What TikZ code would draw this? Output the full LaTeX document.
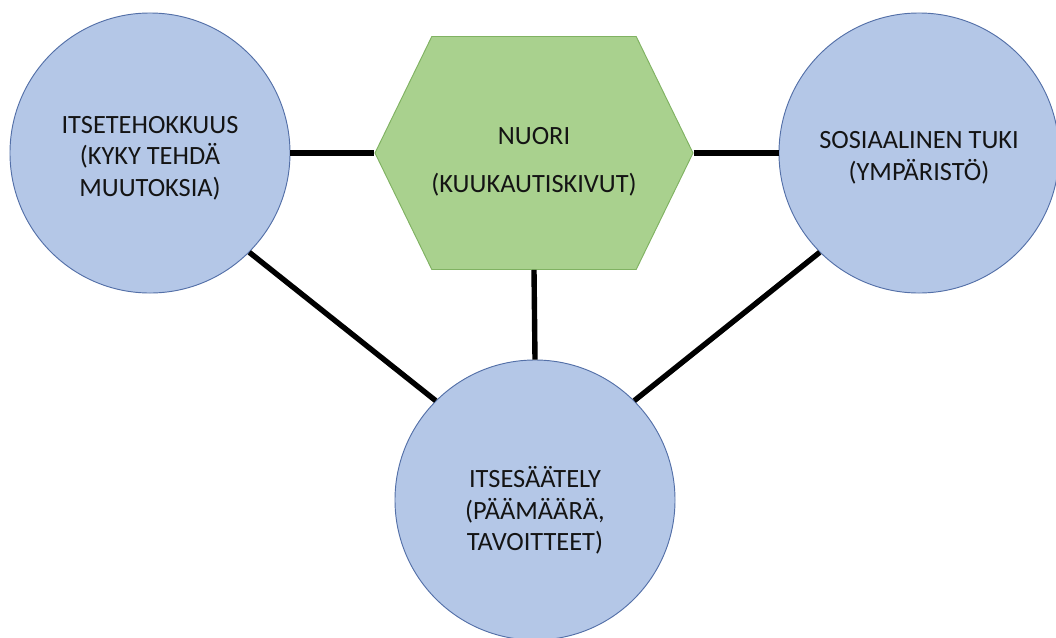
\documentclass[tikz,border=0pt]{standalone}
\usepackage{fontspec}
\setmainfont{Carlito}
\usetikzlibrary{shapes.symbols}

\definecolor{circblue}{RGB}{180,199,231}
\definecolor{circedge}{RGB}{84,112,168}
\definecolor{hexgreen}{RGB}{169,209,142}
\definecolor{hexedge}{RGB}{128,178,98}

\tikzset{
  topic/.style={circle, draw=circedge, fill=circblue, line width=0.8pt,
    minimum size=8.4cm, inner sep=0pt, align=center, text=black!92,
    font=\fontsize{22.5}{26.9}\selectfont},
  hexnode/.style={signal, signal to=east and west, signal pointer angle=128,
    draw=hexedge, fill=hexgreen, line width=0.8pt,
    minimum width=9.54cm, minimum height=6.99cm, inner sep=0pt},
  link/.style={line width=4.6pt}
}

\begin{document}
\begin{tikzpicture}[x=0.03cm, y=-0.03cm]

    \useasboundingbox (0,0) rectangle (1056,637);

    % Draw the hexagon
    \node[hexnode] (nuori) at (534,153) {};
    \node[align=center, text=black!92, font=\fontsize{22.5}{26.9}\selectfont]
      (nuoritext) at (534,162) {NUORI\\[14pt](KUUKAUTISKIVUT)};

    % Draw the circles
    \node[topic] (itseteho) at (150,153) {\rule{0pt}{23pt}ITSETEHOKKUUS\\(KYKY TEHDÄ\\MUUTOKSIA)};
    \node[topic] (sostuki) at (919,153) {\rule{0pt}{23pt}SOSIAALINEN TUKI\\(YMPÄRISTÖ)};
    \node[topic] (itsesaat) at (535,500) {\rule{0pt}{36pt}ITSESÄÄTELY\\(PÄÄMÄÄRÄ,\\TAVOITTEET)};

    % Draw the links
    \draw[link] (itseteho) -- (nuori.west);
    \draw[link] (nuori.east) -- (sostuki);
    \draw[link] (nuori.south) -- (itsesaat.north);
    \draw[link] (itseteho.-45) -- (itsesaat.135);
    \draw[link] (sostuki.-135) -- (itsesaat.45);

\end{tikzpicture}
\end{document}
